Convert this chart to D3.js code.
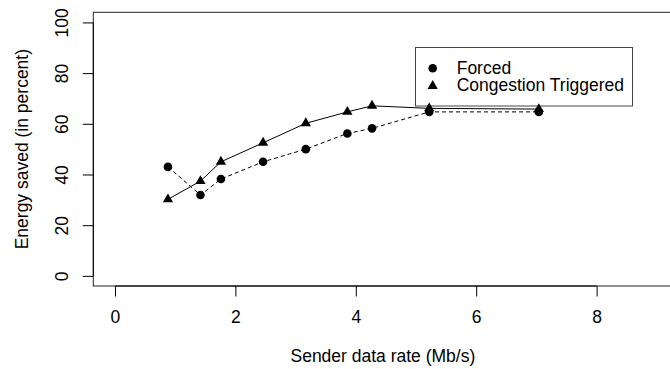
<!DOCTYPE html>
<html>
<head>
<meta charset="utf-8">
<script src="https://cdn.jsdelivr.net/npm/d3@7"></script>
<style>
  html, body { margin: 0; padding: 0; background: #fff; }
  svg { display: block; }
  text { font-family: "Liberation Sans", Arial, Helvetica, sans-serif; fill: #000; }
</style>
</head>
<body>
<script>
// Data
const rate = [0.88, 1.42, 1.76, 2.46, 3.17, 3.86, 4.27, 5.22, 7.04];
const forced = [43.0, 31.9, 38.2, 45.0, 50.0, 56.2, 58.2, 64.7, 64.7];
const congestion = [30.2, 37.4, 45.0, 52.5, 60.2, 64.7, 67.1, 66.1, 65.8];
const xTicks = [0, 2, 4, 6, 8];
const yTicks = [0, 20, 40, 60, 80, 100];
const seriesNames = ["Forced", "Congestion Triggered"];

const W = 670, H = 369;
const FS = 17.5;
const svg = d3.select("body").append("svg").attr("width", W).attr("height", H);

const x = d3.scaleLinear().domain([-0.36, 9.36]).range([93.3, 678.5]);
const y = d3.scaleLinear().domain([-4, 104]).range([286, 12.3]);

// plot box
svg.append("rect")
  .attr("x", x(-0.36)).attr("y", y(104))
  .attr("width", x(9.36) - x(-0.36)).attr("height", y(-4) - y(104))
  .attr("fill", "none").attr("stroke", "#222").attr("stroke-width", 1);

// x axis
const xAxis = d3.axisBottom(x).tickValues(xTicks).tickSize(10.5).tickPadding(14).tickFormat(d3.format("d"));
const gx = svg.append("g").attr("transform", `translate(0,${y(-4)})`).call(xAxis);
gx.select(".domain").attr("d", `M${x(0)},0H${x(8)}`).attr("stroke", "#000");
gx.selectAll(".tick line").attr("stroke", "#000");
gx.selectAll(".tick text").style("font-size", FS + "px").attr("dy", null).attr("y", 36.5);

// y axis
const yAxis = d3.axisLeft(y).tickValues(yTicks).tickSize(10.5).tickFormat(d3.format("d"));
const gy = svg.append("g").attr("transform", `translate(${x(-0.36)},0)`).call(yAxis);
gy.select(".domain").attr("d", `M0,${y(0)}V${y(100)}`).attr("stroke", "#000");
gy.selectAll(".tick line").attr("stroke", "#000");
gy.selectAll(".tick text")
  .style("font-size", FS + "px")
  .attr("x", null).attr("dy", null)
  .attr("text-anchor", "middle")
  .attr("transform", "translate(-25.5,0) rotate(-90)");

// axis titles
svg.append("text")
  .attr("x", (x(-0.36) + 678.5) / 2 - 3).attr("y", 362)
  .attr("text-anchor", "middle").style("font-size", FS + "px")
  .text("Sender data rate (Mb/s)");
svg.append("text")
  .attr("transform", `translate(28,${(y(-4) + y(104)) / 2}) rotate(-90)`)
  .attr("text-anchor", "middle").style("font-size", FS + "px")
  .text("Energy saved (in percent)");

// legend (drawn before data, no fill)
const lg = svg.append("g");
lg.append("rect").attr("x", 415.5).attr("y", 47.5).attr("width", 217).attr("height", 58.5)
  .attr("fill", "none").attr("stroke", "#444").attr("stroke-width", 1);
const circleSym = d3.symbol().type(d3.symbolCircle).size(Math.PI * 4.3 * 4.3);
const triSym = d3.symbol().type(d3.symbolTriangle).size(46);
lg.append("path").attr("d", circleSym()).attr("transform", "translate(432.7,68.3)").attr("fill", "#000");
lg.append("path").attr("d", triSym()).attr("transform", "translate(432.7,86)").attr("fill", "#000");
lg.selectAll("text.leg").data(seriesNames).join("text").attr("class", "leg")
  .attr("x", 456.7).attr("y", (d, i) => 73.8 + i * 17.4)
  .style("font-size", FS + "px").text(d => d);

// lines
const idx = d3.range(rate.length);
const lineF = d3.line().x(i => x(rate[i])).y(i => y(forced[i]));
const lineC = d3.line().x(i => x(rate[i])).y(i => y(congestion[i]));
svg.append("path").attr("d", lineF(idx)).attr("fill", "none").attr("stroke", "#000")
  .attr("stroke-width", 1).attr("stroke-dasharray", "4,3");
svg.append("path").attr("d", lineC(idx)).attr("fill", "none").attr("stroke", "#000")
  .attr("stroke-width", 1);

// points
svg.selectAll("path.pf").data(idx).join("path").attr("class", "pf")
  .attr("d", circleSym()).attr("fill", "#000")
  .attr("transform", i => `translate(${x(rate[i])},${y(forced[i])})`);
svg.selectAll("path.pc").data(idx).join("path").attr("class", "pc")
  .attr("d", triSym()).attr("fill", "#000")
  .attr("transform", i => `translate(${x(rate[i])},${y(congestion[i])})`);
</script>
</body>
</html>
